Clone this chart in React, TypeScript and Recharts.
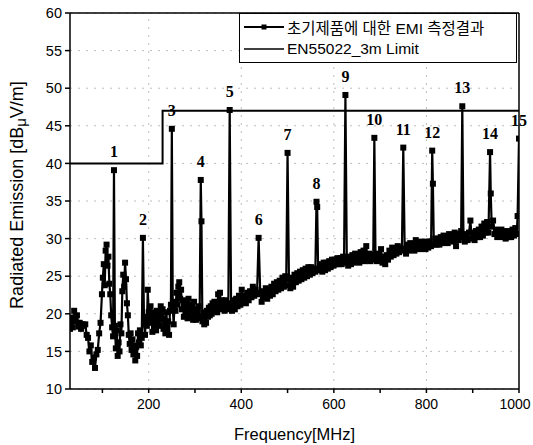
import {
  ComposedChart,
  Line,
  XAxis,
  YAxis,
  CartesianGrid,
  ReferenceLine,
  LabelList,
} from 'recharts'

// measured EMI trace: [frequency MHz, level dBuV/m]
const emiTrace: [number, number][] = [
  [30, 18.0], [33, 19.5], [36, 18.2], [39, 20.4], [42, 19.0], [45, 19.8], [48, 18.3], [51, 18.8],
  [54, 18.0], [57, 18.6], [60, 18.4], [63, 18.6], [66, 17.2], [69, 16.8], [72, 15.0], [75, 15.8],
  [78, 13.6], [81, 14.2], [84, 12.8], [87, 14.6], [90, 15.2], [93, 17.4], [96, 18.8], [99, 22.6],
  [101, 24.8], [103, 26.6], [105, 23.8], [107, 28.4], [109, 29.2], [111, 26.4], [113, 27.6], [115, 24.0],
  [117, 22.6], [119, 19.8], [121, 18.2], [123, 17.0], [125, 39.1], [127, 18.4], [129, 15.4], [131, 17.8],
  [133, 14.4], [135, 16.2], [137, 15.0], [139, 18.6], [141, 17.4], [143, 23.0], [145, 25.2], [147, 23.6],
  [149, 26.8], [151, 24.6], [153, 21.4], [155, 19.8], [157, 17.2], [159, 16.0], [161, 17.4], [163, 15.2],
  [165, 16.6], [167, 14.6], [169, 15.8], [171, 13.8], [173, 15.6], [175, 14.4], [177, 17.4], [179, 16.2],
  [181, 17.8], [183, 15.8], [185, 16.8], [187.5, 30.1], [190, 18.6], [192, 17.2], [194, 19.6], [196, 18.4],
  [198, 23.2], [200, 20.2], [202, 18.8], [204, 21.0], [206, 19.4], [208, 17.6], [210, 20.2], [212, 18.0],
  [214, 19.6], [216, 17.8], [218, 20.4], [220, 18.8], [222, 20.0], [224, 18.4], [226, 21.0], [228, 19.2],
  [230, 20.6], [232, 18.0], [234, 19.4], [236, 17.4], [238, 20.2], [240, 17.6], [242, 19.0], [244, 17.2],
  [246, 20.4], [248, 21.2], [250, 44.6], [252, 20.8], [254, 18.6], [256, 21.6], [258, 20.4], [260, 22.8],
  [262, 21.2], [264, 23.6], [266, 24.2], [268, 22.0], [270, 23.2], [272, 20.6], [274, 21.8], [276, 19.6],
  [278, 21.2], [280, 19.8], [282, 21.6], [284, 19.4], [286, 22.0], [288, 20.2], [290, 21.2], [292, 19.6],
  [294, 20.8], [296, 19.2], [298, 21.6], [300, 20.0], [302, 19.2], [304, 20.6], [306, 19.4], [308, 21.0],
  [310, 19.6], [312.5, 37.8], [314, 32.3], [316, 19.0], [318, 20.2], [320, 18.6], [322, 19.8], [324, 18.8],
  [326, 20.4], [328, 19.6], [330, 20.8], [332, 19.8], [334, 21.0], [336, 20.0], [338, 21.4], [340, 20.4],
  [342, 21.6], [344, 20.6], [346, 21.2], [348, 20.2], [350, 22.6], [352, 21.0], [354, 22.8], [356, 20.6],
  [358, 21.8], [360, 20.8], [362, 21.6], [364, 20.4], [366, 21.8], [368, 20.6], [370, 21.4], [372, 20.8],
  [375, 47.1], [378, 21.2], [380, 20.4], [383, 21.8], [386, 20.6], [389, 22.0], [392, 21.0], [395, 22.4],
  [398, 21.2], [401, 23.2], [404, 21.6], [407, 22.4], [410, 21.4], [413, 22.8], [416, 21.8], [419, 23.0],
  [422, 22.2], [425, 23.6], [428, 22.4], [431, 23.2], [434, 22.6], [437.5, 30.1], [441, 22.8], [444, 21.6],
  [447, 23.0], [450, 22.2], [453, 23.4], [456, 22.0], [459, 23.2], [462, 22.4], [465, 23.6], [468, 22.6],
  [471, 24.0], [474, 23.0], [477, 24.2], [480, 23.2], [483, 24.4], [486, 23.4], [489, 24.8], [492, 23.6],
  [495, 25.0], [497, 23.8], [500, 41.4], [503, 24.6], [506, 23.4], [509, 24.8], [512, 23.6], [515, 25.2],
  [518, 24.2], [521, 25.4], [524, 24.4], [527, 25.6], [530, 24.6], [533, 25.8], [536, 24.8], [539, 26.0],
  [542, 25.0], [545, 26.2], [548, 25.2], [551, 26.2], [554, 25.4], [557, 26.0], [560, 25.6], [562.5, 34.9],
  [564, 34.2], [566, 26.0], [569, 25.8], [572, 26.6], [575, 25.6], [578, 26.8], [581, 25.8], [584, 26.8],
  [587, 26.0], [590, 27.0], [593, 26.2], [596, 27.2], [599, 26.4], [602, 27.2], [605, 26.6], [608, 27.4],
  [611, 26.6], [614, 27.4], [617, 26.6], [620, 27.6], [622, 26.8], [625, 49.1], [628, 27.0], [631, 26.4],
  [634, 27.6], [637, 26.6], [640, 27.8], [643, 26.8], [646, 28.0], [649, 27.0], [652, 27.8], [655, 26.8],
  [658, 28.2], [661, 27.2], [664, 28.4], [667, 27.0], [670, 29.0], [673, 27.2], [676, 28.0], [679, 27.0],
  [682, 27.8], [685, 27.2], [687.5, 43.4], [690, 27.6], [693, 27.0], [696, 28.0], [699, 27.2], [702, 28.6],
  [705, 26.8], [708, 27.6], [711, 26.6], [714, 27.8], [717, 27.2], [720, 28.4], [723, 27.6], [726, 28.8],
  [729, 27.8], [732, 28.6], [735, 28.0], [738, 29.0], [741, 28.2], [744, 28.8], [747, 28.4], [750, 42.1],
  [753, 28.6], [756, 28.0], [759, 29.2], [762, 28.4], [765, 29.4], [768, 28.6], [771, 29.2], [774, 28.4],
  [777, 29.8], [780, 28.8], [783, 29.4], [786, 28.6], [789, 29.6], [792, 28.8], [795, 29.4], [798, 28.6],
  [801, 29.6], [804, 28.8], [807, 29.6], [810, 29.0], [812.5, 41.7], [814, 37.3], [816, 29.2], [819, 30.0],
  [822, 29.2], [825, 30.0], [828, 29.2], [831, 30.2], [834, 29.4], [837, 30.4], [840, 29.6], [843, 30.2],
  [846, 29.4], [849, 30.6], [852, 29.8], [855, 30.4], [858, 29.6], [861, 30.8], [864, 29.0], [867, 30.6],
  [870, 29.8], [873, 30.6], [875, 31.0], [877.5, 47.6], [880, 30.2], [883, 29.6], [886, 30.6], [889, 29.8],
  [892, 30.8], [895, 32.4], [898, 30.0], [901, 30.8], [904, 29.8], [907, 31.0], [910, 30.2], [913, 31.2],
  [916, 30.2], [919, 31.6], [922, 30.4], [925, 32.0], [928, 30.8], [931, 32.2], [934, 30.8], [937.5, 41.5],
  [939, 36.0], [941, 31.6], [944, 32.4], [947, 30.6], [950, 31.2], [953, 30.2], [956, 31.0], [959, 30.4],
  [962, 31.2], [965, 30.2], [968, 31.0], [971, 30.0], [974, 30.8], [977, 30.2], [980, 31.0], [983, 30.2],
  [986, 31.2], [989, 30.4], [992, 31.4], [995, 30.6], [997, 33.0], [1000, 43.3],
]

// numbered harmonic peaks (label = position + 1)
const peakFreqs = [125, 187.5, 250, 312.5, 375, 437.5, 500, 562.5, 625, 687.5, 750, 812.5, 877.5, 937.5, 1000]

// EN55022 3 m limit line
const limitFreqs = [30, 230, 230, 1000]
const limitLevels = [40, 40, 47, 47]

const xTicks = [100, 200, 300, 400, 500, 600, 700, 800, 900, 1000]
const xLabelTicks = [200, 400, 600, 800, 1000]
const yTicks = [10, 15, 20, 25, 30, 35, 40, 45, 50, 55, 60]

const seriesName = '초기제품에 대한 EMI 측정결과'
const limitName = 'EN55022_3m Limit'

const font = '"Liberation Sans", Arial, "Noto Sans CJK KR", sans-serif'

const traceData = emiTrace.map(([f, v]) => {
  const i = peakFreqs.indexOf(f)
  return { f, v, tag: i >= 0 ? String(i + 1) : undefined }
})
const limitData = limitFreqs.map((f, i) => ({ f, lim: limitLevels[i] }))

function SquareDot(p: any) {
  if (p.cx == null || p.cy == null) return <g key={p.index} />
  return <rect key={p.index} x={p.cx - 3} y={p.cy - 3} width={6} height={6} fill="#000" />
}

function PeakLabel(p: any) {
  if (!p.value) return null
  return (
    <text x={p.x} y={p.y - 13} textAnchor="middle" fontFamily='"Liberation Serif", "Times New Roman", serif'
      fontWeight="bold" fontSize={16} fill="#000">
      {p.value}
    </text>
  )
}

function XTick(p: any) {
  const v = p.payload?.value
  if (!xLabelTicks.includes(v)) return <g />
  return (
    <text x={Math.min(p.x, 515)} y={p.y} dy={12} textAnchor="middle" fontFamily={font} fontSize={14} fill="#000">
      {v}
    </text>
  )
}

function YTitle(p: any) {
  const vb = p.viewBox || { y: 13, height: 376 }
  const cx = 17
  const cy = vb.y + vb.height / 2 - 6
  return (
    <text transform={`rotate(-90 ${cx} ${cy})`} x={cx} y={cy} textAnchor="middle" dominantBaseline="central"
      fontFamily={font} fontSize={18} fill="#000">
      Radiated Emission [dB<tspan dy={3} fontSize={15}>μ</tspan><tspan dy={-3}>V/m]</tspan>
    </text>
  )
}

function LegendBox() {
  return (
    <div style={{
      position: 'absolute', left: 239, top: 13, width: 278, height: 50, boxSizing: 'border-box',
      border: '1px solid #000', background: '#fff', fontFamily: font, fontSize: 15.5, color: '#000',
    }}>
      <div style={{ position: 'absolute', left: 4, top: 3, display: 'flex', alignItems: 'center', height: 20 }}>
        <svg width={40} height={10}>
          <line x1={0} y1={5} x2={40} y2={5} stroke="#000" strokeWidth={2} />
          <rect x={17.5} y={2.5} width={5} height={5} fill="#000" />
        </svg>
        <span style={{ marginLeft: 3, whiteSpace: 'nowrap' }}>{seriesName}</span>
      </div>
      <div style={{ position: 'absolute', left: 4, top: 25, display: 'flex', alignItems: 'center', height: 20 }}>
        <svg width={40} height={10}>
          <line x1={0} y1={5} x2={40} y2={5} stroke="#000" strokeWidth={1.5} />
        </svg>
        <span style={{ marginLeft: 3, whiteSpace: 'nowrap' }}>{limitName}</span>
      </div>
    </div>
  )
}

export default function App() {
  return (
    <div style={{ position: 'absolute', left: 0, top: 0, width: 533, height: 445, background: '#fff' }}>
      <ComposedChart width={533} height={445} margin={{ top: 13, right: 14, left: 0, bottom: 0 }}>
        <CartesianGrid vertical={false} stroke="#bdbdbd" strokeDasharray="2 6" />
        {xLabelTicks.slice(0, 4).map(x => (
          <ReferenceLine key={x} x={x} stroke="#bdbdbd" strokeDasharray="2 6" />
        ))}
        <XAxis
          dataKey="f"
          type="number"
          domain={[30, 1000]}
          ticks={xTicks}
          allowDataOverflow
          height={56}
          stroke="#000"
          strokeWidth={1.5}
          tickSize={4}
          tickMargin={4}
          tick={XTick}
          label={{ value: 'Frequency[MHz]', position: 'insideBottom', offset: 5, fill: '#000', fontFamily: font, fontSize: 16.5 }}
        />
        <YAxis
          type="number"
          domain={[10, 60]}
          ticks={yTicks}
          allowDataOverflow
          width={70}
          stroke="#000"
          strokeWidth={1.5}
          tickSize={5}
          tickMargin={3}
          tick={{ fill: '#000', fontFamily: font, fontSize: 14.5 }}
          label={<YTitle />}
        />
        <ReferenceLine y={60} stroke="#000" strokeWidth={1.5} />
        <ReferenceLine x={1000} stroke="#000" strokeWidth={1.5} />
        <Line
          data={limitData}
          dataKey="lim"
          type="linear"
          stroke="#000"
          strokeWidth={2}
          dot={false}
          isAnimationActive={false}
        />
        <Line
          data={traceData}
          dataKey="v"
          type="linear"
          stroke="#000"
          strokeWidth={2.2}
          dot={SquareDot}
          isAnimationActive={false}
        >
          <LabelList dataKey="tag" content={PeakLabel} />
        </Line>
      </ComposedChart>
      <LegendBox />
    </div>
  )
}
